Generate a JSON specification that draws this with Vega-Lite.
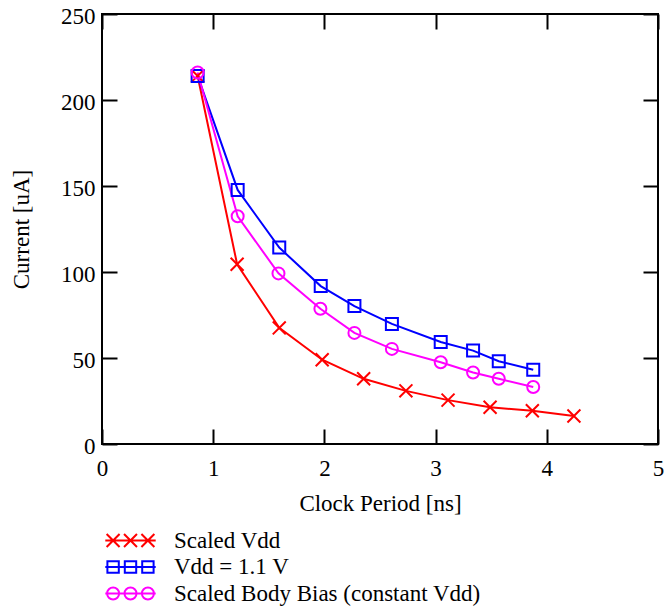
{
  "$schema": "https://vega.github.io/schema/vega-lite/v6.json",
  "autosize": "none",
  "padding": {"left": 102, "top": 14, "right": 9, "bottom": 172},
  "width": 556,
  "height": 430,
  "background": "white",
  "config": {
    "font": "Liberation Serif",
    "view": {"stroke": "black", "strokeWidth": 2},
    "axis": {
      "grid": false,
      "domain": false,
      "tickColor": "black",
      "tickWidth": 2,
      "tickSize": -15,
      "labelFont": "Liberation Serif",
      "labelFontSize": 23,
      "labelColor": "black",
      "titleFont": "Liberation Serif",
      "titleFontSize": 23,
      "titleFontWeight": "normal",
      "titleColor": "black",
      "labelFlush": false
    }
  },
  "data": {
    "values": [
      {"series": "Scaled Vdd", "period": 0.86, "current": 214},
      {"series": "Scaled Vdd", "period": 1.215, "current": 104.5},
      {"series": "Scaled Vdd", "period": 1.594, "current": 67.5},
      {"series": "Scaled Vdd", "period": 1.98, "current": 49},
      {"series": "Scaled Vdd", "period": 2.353, "current": 37.9},
      {"series": "Scaled Vdd", "period": 2.733, "current": 30.9},
      {"series": "Scaled Vdd", "period": 3.112, "current": 25.5},
      {"series": "Scaled Vdd", "period": 3.49, "current": 21.4},
      {"series": "Scaled Vdd", "period": 3.87, "current": 19.3},
      {"series": "Scaled Vdd", "period": 4.244, "current": 16.3},
      {"series": "Vdd = 1.1 V", "period": 0.86, "current": 214},
      {"series": "Vdd = 1.1 V", "period": 1.22, "current": 147.7},
      {"series": "Vdd = 1.1 V", "period": 1.594, "current": 114.2},
      {"series": "Vdd = 1.1 V", "period": 1.967, "current": 91.8},
      {"series": "Vdd = 1.1 V", "period": 2.27, "current": 80.2},
      {"series": "Vdd = 1.1 V", "period": 2.607, "current": 69.8},
      {"series": "Vdd = 1.1 V", "period": 3.046, "current": 59.3},
      {"series": "Vdd = 1.1 V", "period": 3.337, "current": 54.3},
      {"series": "Vdd = 1.1 V", "period": 3.568, "current": 48.1},
      {"series": "Vdd = 1.1 V", "period": 3.878, "current": 43.2},
      {"series": "Scaled Body Bias (constant Vdd)", "period": 0.86, "current": 216},
      {"series": "Scaled Body Bias (constant Vdd)", "period": 1.22, "current": 132.4},
      {"series": "Scaled Body Bias (constant Vdd)", "period": 1.587, "current": 99.2},
      {"series": "Scaled Body Bias (constant Vdd)", "period": 1.964, "current": 78.6},
      {"series": "Scaled Body Bias (constant Vdd)", "period": 2.27, "current": 64.6},
      {"series": "Scaled Body Bias (constant Vdd)", "period": 2.607, "current": 55.3},
      {"series": "Scaled Body Bias (constant Vdd)", "period": 3.046, "current": 47.5},
      {"series": "Scaled Body Bias (constant Vdd)", "period": 3.337, "current": 41.6},
      {"series": "Scaled Body Bias (constant Vdd)", "period": 3.568, "current": 37.9},
      {"series": "Scaled Body Bias (constant Vdd)", "period": 3.878, "current": 33.1}
    ]
  },
  "layer": [
    {
      "mark": {"type": "line", "strokeWidth": 2},
      "encoding": {
        "x": {
          "field": "period", "type": "quantitative",
          "scale": {"domain": [0, 5], "nice": false, "zero": false},
          "axis": {"orient": "bottom", "values": [0, 1, 2, 3, 4, 5], "title": "Clock Period [ns]", "labelPadding": 28, "titlePadding": 12}
        },
        "y": {
          "field": "current", "type": "quantitative",
          "scale": {"domain": [0, 250], "nice": false},
          "axis": {"orient": "left", "values": [0, 50, 100, 150, 200, 250], "title": "Current [uA]", "labelPadding": 22, "titlePadding": 27, "labelOffset": 2}
        },
        "color": {
          "field": "series", "type": "nominal",
          "scale": {
            "domain": ["Scaled Vdd", "Vdd = 1.1 V", "Scaled Body Bias (constant Vdd)"],
            "range": ["#ff0000", "#0000ff", "#ff00ff"]
          },
          "legend": {
            "orient": "none",
            "legendX": 17,
            "legendY": 515,
            "title": null,
            "padding": 0,
            "symbolSize": 144,
            "symbolStrokeWidth": 2,
            "labelFont": "Liberation Serif",
            "labelFontSize": 23,
            "labelColor": "black",
            "labelOffset": 32,
            "rowPadding": 2.5,
            "labelLimit": 500,
            "encode": {
              "symbols": {
                "update": {
                  "shape": {"signal": "datum.value === 'Scaled Vdd' ? 'M-4.2,0L4.2,0M-3.98,-1.08L-1.82,1.08M-3.98,1.08L-1.82,-1.08M-1.08,-1.08L1.08,1.08M-1.08,1.08L1.08,-1.08M1.82,-1.08L3.98,1.08M1.82,1.08L3.98,-1.08' : datum.value === 'Vdd = 1.1 V' ? 'M-4.2,0L4.2,0M-3.85,-0.95L-1.95,-0.95L-1.95,0.95L-3.85,0.95ZM-0.95,-0.95L0.95,-0.95L0.95,0.95L-0.95,0.95ZM1.95,-0.95L3.85,-0.95L3.85,0.95L1.95,0.95Z' : 'M-4.2,0L4.2,0M-1.9,0A1,1 0 1,1 -3.9,0A1,1 0 1,1 -1.9,0M1,0A1,1 0 1,1 -1,0A1,1 0 1,1 1,0M3.9,0A1,1 0 1,1 1.9,0A1,1 0 1,1 3.9,0'"},
                  "fill": {"value": "transparent"},
                  "strokeWidth": {"value": 2},
                  "size": {"value": 144}
                }
              }
            }
          }
        }
      }
    },
    {
      "transform": [{"filter": {"field": "series", "equal": "Scaled Vdd"}}],
      "mark": {"type": "point", "shape": "M-1.08,-1.08L1.08,1.08M-1.08,1.08L1.08,-1.08", "color": "#ff0000", "filled": false, "strokeWidth": 2, "size": 144, "opacity": 1},
      "encoding": {
        "x": {
          "field": "period", "type": "quantitative",
          "axis": {"orient": "top", "values": [0, 1, 2, 3, 4, 5], "labels": false, "title": null}
        },
        "y": {
          "field": "current", "type": "quantitative",
          "axis": {"orient": "right", "values": [0, 50, 100, 150, 200, 250], "labels": false, "title": null}
        }
      }
    },
    {
      "transform": [{"filter": {"field": "series", "equal": "Vdd = 1.1 V"}}],
      "mark": {"type": "point", "shape": "square", "color": "#0000ff", "filled": false, "strokeWidth": 2, "size": 144, "opacity": 1},
      "encoding": {
        "x": {"field": "period", "type": "quantitative", "axis": null},
        "y": {"field": "current", "type": "quantitative", "axis": null}
      }
    },
    {
      "transform": [{"filter": {"field": "series", "equal": "Scaled Body Bias (constant Vdd)"}}],
      "mark": {"type": "point", "shape": "circle", "color": "#ff00ff", "filled": false, "strokeWidth": 2, "size": 144, "opacity": 1},
      "encoding": {
        "x": {"field": "period", "type": "quantitative", "axis": null},
        "y": {"field": "current", "type": "quantitative", "axis": null}
      }
    }
  ],
  "resolve": {"axis": {"x": "independent", "y": "independent"}}
}
